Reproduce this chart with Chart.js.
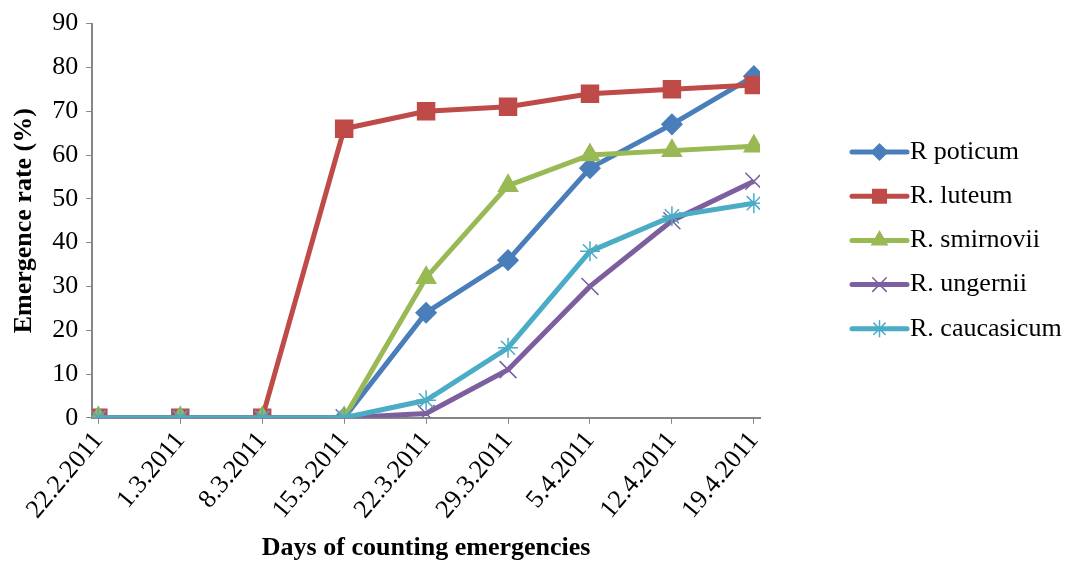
<!DOCTYPE html>
<html>
<head>
<meta charset="utf-8">
<script src="https://cdn.jsdelivr.net/npm/chart.js@4.4.0/dist/chart.umd.min.js"></script>
<style>
  body { margin: 0; background: #fff; }
  #wrap { width: 1069px; height: 567px; }
</style>
</head>
<body>
<div id="wrap"><canvas id="c"></canvas></div>
<script>
const days = ['22.2.2011', '1.3.2011', '8.3.2011', '15.3.2011', '22.3.2011', '29.3.2011', '5.4.2011', '12.4.2011', '19.4.2011'];
const poticum = [0, 0, 0, 0, 24, 36, 57, 67, 78];
const luteum = [0, 0, 0, 66, 70, 71, 74, 75, 76];
const smirnovii = [0, 0, 0, 0, 32, 53, 60, 61, 62];
const ungernii = [0, 0, 0, 0, 1, 11, 30, 45, 54];
const caucasicum = [0, 0, 0, 0, 4, 16, 38, 46, 49];
const yTicks = [0, 10, 20, 30, 40, 50, 60, 70, 80, 90];

const serif = "'Liberation Serif', 'Times New Roman', serif";

function pts(arr) {
  return arr.map((v, i) => ({ x: i, y: v }));
}

const series = [
  { label: 'R poticum', data: poticum, color: '#4A7EBB', style: 'rectRot', r: 10 },
  { label: 'R. luteum', data: luteum, color: '#BE4B48', style: 'rect', r: 12 },
  { label: 'R. smirnovii', data: smirnovii, color: '#98B954', style: 'triangle', r: 11 },
  { label: 'R. ungernii', data: ungernii, color: '#7D5FA0', style: 'crossRot', r: 12 },
  { label: 'R. caucasicum', data: caucasicum, color: '#4BACC6', style: 'star', r: 10 }
];

// legend drawn by hand: line with marker, like the original
const sideLegend = {
  id: 'sideLegend',
  afterDraw(chart) {
    const ctx = chart.ctx;
    const x0 = 852, x1 = 907;
    let y = 152;
    series.forEach(s => {
      ctx.save();
      ctx.strokeStyle = s.color;
      ctx.lineWidth = 5;
      ctx.lineCap = 'round';
      ctx.beginPath();
      ctx.moveTo(x0, y);
      ctx.lineTo(x1, y);
      ctx.stroke();
      ctx.fillStyle = s.color;
      ctx.lineWidth = 1.5;
      Chart.helpers.drawPoint(ctx, { pointStyle: s.style, radius: s.r * 0.8, rotation: 0, borderWidth: 1.5 }, (x0 + x1) / 2, y);
      ctx.fillStyle = '#000';
      ctx.font = '26px ' + serif;
      ctx.textBaseline = 'middle';
      ctx.fillText(s.label, 910, y);
      ctx.restore();
      y += 44.2;
    });
  }
};

new Chart(document.getElementById('c'), {
  type: 'line',
  data: {
    datasets: series.map((s, i) => ({
      label: s.label,
      data: pts(s.data),
      borderColor: s.color,
      backgroundColor: s.color,
      borderWidth: 5,
      pointStyle: s.style,
      pointRadius: s.r,
      pointBorderWidth: 1.5,
      pointBorderColor: s.color,
      pointBackgroundColor: s.color,
      order: series.length - i,
      tension: 0
    }))
  },
  options: {
    responsive: true,
    maintainAspectRatio: false,
    animation: false,
    events: [],
    layout: { padding: { left: 9, right: 309, top: 12, bottom: 3 } },
    plugins: {
      legend: { display: false },
      tooltip: { enabled: false }
    },
    scales: {
      x: {
        type: 'linear',
        min: -0.075,
        max: 8.075,
        afterBuildTicks(axis) {
          axis.ticks = days.map((d, i) => ({ value: i }));
        },
        grid: { drawOnChartArea: false, color: '#868686', tickLength: 6 },
        border: { color: '#868686', width: 2 },
        ticks: {
          color: '#000',
          font: { family: serif, size: 26 },
          maxRotation: 50,
          minRotation: 50,
          padding: 2,
          callback: v => days[v]
        },
        title: {
          display: true,
          text: 'Days of counting emergencies',
          color: '#000',
          font: { family: serif, size: 26, weight: 'bold' },
          padding: { top: 6, bottom: 0 }
        }
      },
      y: {
        min: 0,
        max: 90,
        afterBuildTicks(axis) {
          axis.ticks = yTicks.map(v => ({ value: v }));
        },
        grid: { drawOnChartArea: false, color: '#868686', tickLength: 6 },
        border: { color: '#868686', width: 2 },
        ticks: {
          color: '#000',
          font: { family: serif, size: 26 },
          padding: 8
        },
        title: {
          display: true,
          text: 'Emergence rate (%)',
          color: '#000',
          font: { family: serif, size: 26, weight: 'bold' },
          padding: { top: 0, bottom: 4 }
        }
      }
    }
  },
  plugins: [sideLegend]
});
</script>
</body>
</html>
